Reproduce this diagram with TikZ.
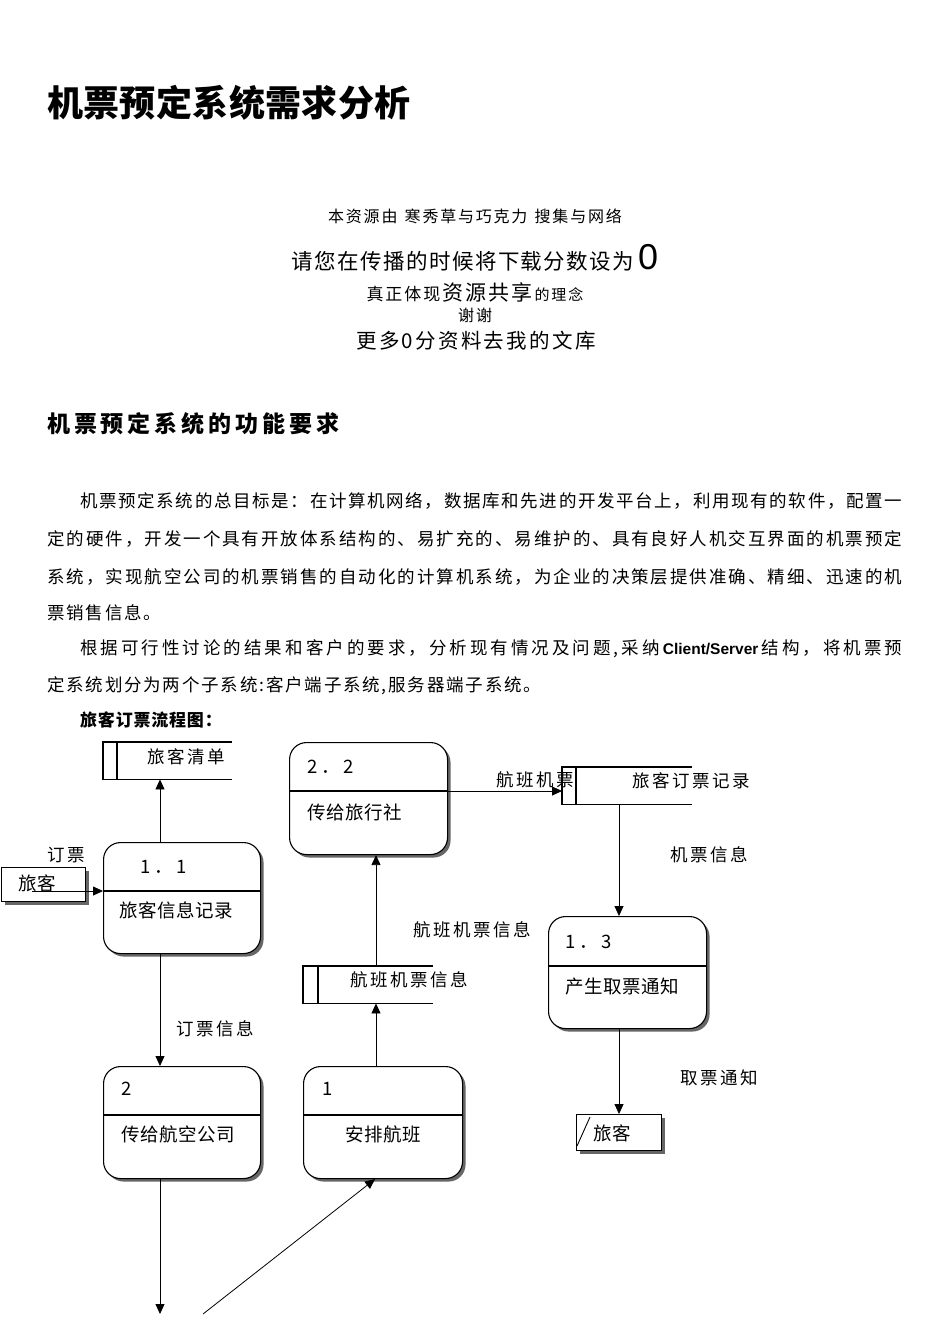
\documentclass[tikz,border=0pt]{standalone}
\usepackage{fontspec}
\setmainfont{Noto Sans CJK SC}
\newfontfamily\latinsans{Liberation Sans}
\usetikzlibrary{arrows.meta,shadows,calc}
\newcommand\fs[1]{\fontsize{#1}{#1}\selectfont}
\makeatletter
% text with a fixed gap between the characters
\newcommand\spc[2]{\@tfor\jch:=#2\do{\jch\hskip#1\relax}\unskip}
% text spread to a given width
\newcommand\jline[2]{\hbox to #1{\@tfor\jch:=#2\do{\jch\hskip 0pt plus 1fil\relax}\unskip}}
\makeatother
\tikzset{
  txt/.style={inner sep=0pt, anchor=west},
  ctxt/.style={inner sep=0pt, anchor=center},
  lab/.style={txt, font=\fs{17.5}},
  para/.style={txt, font=\fs{17.5}},
  shd/.style={drop shadow={shadow xshift=3pt, shadow yshift=-3pt, fill=black!60, opacity=1}},
  proc/.style={draw, line width=1.1pt, rounded corners=17pt, fill=white, shd,
    minimum width=157pt, minimum height=111pt, inner sep=0pt, anchor=north west},
  ent/.style={draw, line width=1pt, fill=white, shd,
    minimum width=85pt, minimum height=35pt, inner sep=0pt, anchor=north west},
  area/.style={inner sep=0pt, minimum width=130pt, minimum height=37pt, anchor=north west},
  ln/.style={line width=1.1pt},
  arr/.style={line width=0.8pt, -{Triangle[length=10pt,width=9pt]}},
  num/.style={txt, font=\fs{18.5}},
  ptxt/.style={txt, font=\fs{18.5}}
}
\begin{document}
\begin{tikzpicture}[x=1pt,y=-1pt]
\useasboundingbox (0,0) rectangle (950,1344);

% title and header
\node[txt, font=\fs{36}\bfseries] (title) at (47,103) {\spc{0.4pt}{机票预定系统需求分析}};
\node[ctxt, font=\fs{16}] (h1) at (475,216) {\spc{1.8pt}{本资源由~寒秀草与巧克力~搜集与网络}};
\node[ctxt] (h2) at (475,258) {\fs{21.5}\spc{1.4pt}{请您在传播的时候将下载分数设为}\hskip4pt{\latinsans\fontsize{36}{36}\selectfont 0}};
\node[ctxt] (h3) at (475,292) {{\fs{17}\spc{2pt}{真正体现}}\hskip2pt{\fs{21}\spc{2pt}{资源共享}}\hskip2pt{\fs{15}\spc{2pt}{的理念}}};
\node[ctxt, font=\fs{16}] (h4) at (475,315) {\spc{2pt}{谢谢}};
\node[ctxt, font=\fs{20.5}] (h5) at (476,341) {\spc{2.3pt}{更多0分资料去我的文库}};

\node[txt, font=\fs{23}\bfseries] (sec) at (47,424) {\spc{3.9pt}{机票预定系统的功能要求}};

% paragraph
\node[para] (t1) at (80,501) {\jline{822pt}{机票预定系统的总目标是：在计算机网络，数据库和先进的开发平台上，利用现有的软件，配置一}};
\node[para] (t2) at (47,539) {\jline{855pt}{定的硬件，开发一个具有开放体系结构的、易扩充的、易维护的、具有良好人机交互界面的机票预定}};
\node[para] (t3) at (47,577) {\jline{855pt}{系统，实现航空公司的机票销售的自动化的计算机系统，为企业的决策层提供准确、精细、迅速的机}};
\node[para] (t4) at (47,613) {\spc{1.8pt}{票销售信息。}};
\node[para] (t5) at (80,649) {\jline{822pt}{根据可行性讨论的结果和客户的要求，分析现有情况及问题,采纳{{\latinsans\bfseries\fontsize{15.5}{15.5}\selectfont Client/Server}}结构，将机票预}};
\node[para] (t6) at (47,686) {\spc{1.8pt}{定系统划分为两个子系统:客户端子系统,服务器端子系统。}};

\node[txt, font=\fs{17}\bfseries] (ftitle) at (80,720) {\spc{0.8pt}{旅客订票流程图：}};

% processes
\node[proc] (p11) at (103,842) {};
\node[proc, minimum width=158pt, minimum height=112pt] (p22) at (289,742) {};
\node[proc, minimum width=158pt, minimum height=112pt] (p13) at (548,916) {};
\node[proc, minimum height=112pt] (p2) at (103,1066) {};
\node[proc, minimum width=159pt, minimum height=112pt] (p1) at (303,1066) {};
\foreach \p/\d in {p11/49, p22/49, p13/50, p2/49, p1/49}
  \draw[ln] ($(\p.north west)+(0,\d)$) -- ($(\p.north east)+(0,\d)$);

\node[num] (p11n) at (140,867) {\spc{4pt}{1．1}};
\node[ptxt] (p11t) at (119,910) {\spc{0.5pt}{旅客信息记录}};
\node[num] (p22n) at (307,767) {\spc{4pt}{2．2}};
\node[ptxt] (p22t) at (307,812) {\spc{0.5pt}{传给旅行社}};
\node[num] (p13n) at (565,942) {\spc{4pt}{1．3}};
\node[ptxt] (p13t) at (565,987) {\spc{0.5pt}{产生取票通知}};
\node[num] (p2n) at (121,1089) {2};
\node[ptxt] (p2t) at (121,1134) {\spc{0.5pt}{传给航空公司}};
\node[num] (p1n) at (322,1089) {1};
\node[ptxt] (p1t) at (345,1134) {\spc{0.5pt}{安排航班}};

% external entities
\node[ent, minimum width=84pt, minimum height=34pt] (e1) at (1,867) {};
\node[ptxt] (e1t) at (18,883) {\spc{0.5pt}{旅客}};
\node[ent, minimum height=36pt] (e2) at (576,1114) {};
\draw[line width=0.9pt] ($(e2.south west)+(1,-5)$) -- ($(e2.north west)+(14,3)$);
\node[ptxt] (e2t) at (593,1133) {\spc{0.5pt}{旅客}};

% data stores
\node[area, minimum width=129pt] (s1) at (103,742) {};
\node[area] (s2) at (562,767) {};
\node[area] (s3) at (303,966) {};
\foreach \s/\d in {s1/14, s2/14, s3/15}{
  \draw[ln] (\s.north east) -- (\s.north west) -- (\s.south west) -- (\s.south east);
  \draw[ln] ($(\s.north west)+(\d,0)$) -- ($(\s.south west)+(\d,0)$);
}
\node[lab] (s1t) at (147,757) {\spc{2.5pt}{旅客清单}};
\node[lab] (s2t) at (632,781) {\spc{2.5pt}{旅客订票记录}};
\node[lab] (s3t) at (350,980) {\spc{2.5pt}{航班机票信息}};

% connectors
\coordinate (a1) at (32,891);
\draw[arr] (a1) -- (p11.west |- a1);
\draw[arr] (p11.north -| 160,0) -- (s1.south -| 160,0);
\draw[arr] (p11.south -| 160,0) -- (p2.north -| 160,0);
\coordinate (b1) at (160,1314);
\draw[arr] (p2.south -| b1) -- (b1);
\coordinate (b2) at (203,1314);
\draw[arr] (b2) -- (p1.south -| 375,0);
\draw[arr] (p1.north -| 376,0) -- (s3.south -| 376,0);
\draw[arr] (s3.north -| 376,0) -- (p22.south -| 376,0);
\draw[arr] (p22.east |- 0,791) -- (s2.west |- 0,791);
\draw[arr] (s2.south -| 619,0) -- (p13.north -| 619,0);
\draw[arr] (p13.south -| 619,0) -- (e2.north -| 619,0);

% labels
\node[lab] (l1) at (47,855) {\spc{2.5pt}{订票}};
\node[lab] (l2) at (496,780) {\spc{2.5pt}{航班机票}};
\node[lab] (l3) at (670,855) {\spc{2.5pt}{机票信息}};
\node[lab] (l4) at (413,930) {\spc{2.5pt}{航班机票信息}};
\node[lab] (l5) at (176,1029) {\spc{2.5pt}{订票信息}};
\node[lab] (l6) at (680,1078) {\spc{2.5pt}{取票通知}};
\end{tikzpicture}
\end{document}
